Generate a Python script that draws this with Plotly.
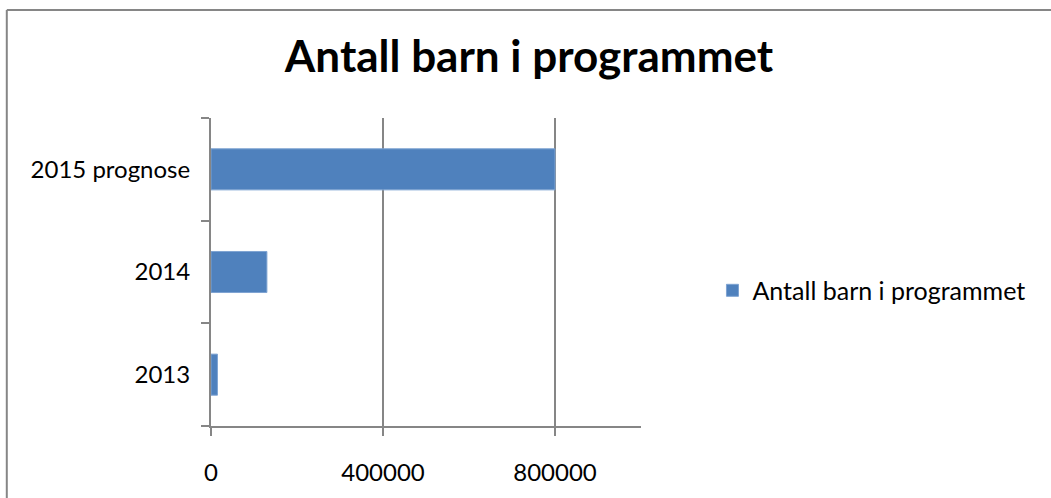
import plotly.graph_objects as go

categories = ["2013", "2014", "2015 prognose"]
values = [15000, 130000, 800000]
series_name = "Antall barn i programmet"
title_text = "Antall barn i programmet"
x_tickvals = [0, 400000, 800000]
x_ticktext = ["0", "400000", "800000"]

W, H = 1051, 498
L, R, T, B = 211.3, 641.5, 118, 435.7

fig = go.Figure()
fig.add_trace(go.Bar(
    y=categories, x=values, orientation="h", name=series_name,
    marker=dict(color="#4F81BD", line=dict(color="#7EA3D2", width=1)),
    width=0.4, showlegend=True,
))

font = "Lato, Calibri, 'Open Sans', sans-serif"
fig.update_layout(
    width=W, height=H,
    margin=dict(l=L, r=W - R, t=T, b=H - B, pad=0),
    paper_bgcolor="white", plot_bgcolor="white",
    font=dict(family=font, size=24, color="#000000"),
    title=dict(text="<b>" + title_text + "</b>", x=529 / W, xanchor="center",
               xref="container", y=1 - 57 / H, yref="container", yanchor="middle",
               font=dict(family=font, size=44, color="#000000")),
    showlegend=True,
    legend=dict(x=(713 - L) / (R - L), xanchor="left", y=(B - 296) / (B - T), yanchor="middle",
                font=dict(family=font, size=25, color="#000000"),
                bgcolor="rgba(0,0,0,0)", borderwidth=0),
    bargap=0.6,
)
fig.update_xaxes(
    range=[0, 1000000], tickvals=x_tickvals, ticktext=x_ticktext,
    showgrid=True, gridcolor="#868686", gridwidth=2,
    showline=True, linecolor="#868686", linewidth=2,
    ticks="outside", ticklen=8, tickwidth=2, tickcolor="#868686",
    zeroline=False, ticklabelstandoff=16, fixedrange=True,
)
fig.update_yaxes(
    type="category", categoryorder="array", categoryarray=categories,
    showgrid=False, showline=True, linecolor="#868686", linewidth=2,
    ticks="outside", ticklen=8, tickwidth=2, tickcolor="#868686",
    tickson="boundaries", ticklabelstandoff=14, fixedrange=True,
)
# outer chart frame (top and left edges visible in the crop)
fx0 = (7 - L) / (R - L)
fx1 = (W + 20 - L) / (R - L)
fy_top = (B - 6.5) / (B - T)
fy_bot = (B - H - 20) / (B - T)
fig.add_shape(type="line", xref="paper", yref="paper", x0=fx0, x1=fx1, y0=fy_top, y1=fy_top,
              line=dict(color="#868686", width=2), layer="below")
fig.add_shape(type="line", xref="paper", yref="paper", x0=fx0, x1=fx0, y0=fy_bot, y1=fy_top,
              line=dict(color="#868686", width=2), layer="below")

fig.write_html("out.html", config={"displayModeBar": False},
               post_script="document.body.style.margin='0';document.body.style.overflow='hidden';")
